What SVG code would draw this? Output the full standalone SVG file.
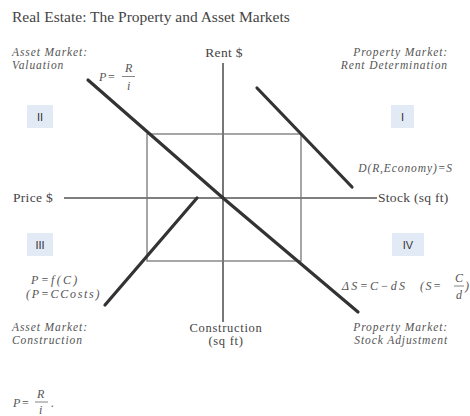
<svg xmlns="http://www.w3.org/2000/svg" width="470" height="416" viewBox="0 0 470 416">
<style>
.t{font-family:"Liberation Serif",serif;fill:#444;font-size:13.5px;letter-spacing:0.3px}
.t2{font-family:"Liberation Serif",serif;fill:#444;font-size:12.5px;letter-spacing:0.7px;text-anchor:middle}
.it{font-family:"Liberation Serif",serif;font-style:italic;fill:#555;font-size:11.5px;letter-spacing:0.9px}
.m{font-family:"Liberation Serif",serif;font-style:italic;fill:#555;font-size:12px}
.ax{stroke:#555;stroke-width:1.6;fill:none}
.grid{stroke:#777;stroke-width:1.3;fill:none}
.cur{stroke:#333;stroke-width:3.2;fill:none;stroke-linecap:round}
.box{fill:#e2eaf5}
.bt{font-family:"Liberation Sans",sans-serif;fill:#333;font-size:11px;text-anchor:middle}
.fb{stroke:#666;stroke-width:0.8}
</style>
<rect width="470" height="416" fill="#fff"/>
<text id="title" x="12" y="22" font-family="Liberation Serif,serif" font-size="15.5" fill="#444">Real Estate: The Property and Asset Markets</text>
<g id="connectors">
<line class="ax" x1="223" y1="63" x2="223" y2="322"/>
<line class="ax" x1="64" y1="198" x2="377" y2="198"/>
<rect class="grid" x="147" y="134" width="154" height="127"/>
<line class="cur" x1="88" y1="80" x2="223" y2="198"/>
<line class="cur" x1="223" y1="198" x2="358" y2="312"/>
<line class="cur" x1="257" y1="88" x2="352" y2="187"/>
<line class="cur" x1="197" y1="198" x2="105" y2="305"/>
</g>
<g id="asset-valuation"><text class="it" x="12" y="56">Asset Market:</text><text class="it" x="12" y="69">Valuation</text></g>
<g id="rent-axis"><text class="t" x="224" y="57" text-anchor="middle">Rent $</text></g>
<g id="property-rent"><text class="it" x="448" y="56" text-anchor="end">Property Market:</text><text class="it" x="448" y="69" text-anchor="end">Rent Determination</text></g>
<g id="eq-valuation"><text class="m" x="99" y="81" letter-spacing="1">P=</text><text class="m" x="125" y="72">R</text><line class="fb" x1="122" y1="76.5" x2="135" y2="76.5"/><text class="m" x="127" y="90">i</text></g>
<g id="q2"><rect class="box" x="27" y="105" width="26" height="23"/><text class="bt" x="40" y="120.5">II</text></g>
<g id="q1"><rect class="box" x="391" y="105" width="23" height="23"/><text class="bt" x="402.5" y="120.5">I</text></g>
<g id="eq-demand"><text class="it" x="453" y="172" text-anchor="end">D(R,Economy)=S</text></g>
<g id="price-axis"><text class="t" x="13" y="202">Price $</text></g>
<g id="stock-axis"><text class="t" x="378" y="202">Stock (sq ft)</text></g>
<g id="q3"><rect class="box" x="27" y="233" width="26" height="23"/><text class="bt" x="40" y="248.5">III</text></g>
<g id="q4"><rect class="box" x="392" y="233" width="32" height="23"/><text class="bt" x="408" y="248.5">IV</text></g>
<g id="eq-construction"><text class="m" x="31" y="284" letter-spacing="2.3">P=f(C)</text><text class="m" x="26" y="298" letter-spacing="1.7">(P=CCosts)</text></g>
<g id="eq-stock"><text class="m" x="342" y="290" letter-spacing="2.3">ΔS=C−dS</text><text class="m" x="420" y="290" letter-spacing="1.5">(S=</text><text class="m" x="455" y="282">C</text><line class="fb" x1="454" y1="286" x2="464" y2="286"/><text class="m" x="456" y="299">d</text><text class="m" x="465" y="290">)</text></g>
<g id="asset-construction"><text class="it" x="12" y="331">Asset Market:</text><text class="it" x="12" y="344">Construction</text></g>
<g id="construction-axis"><text class="t2" x="226" y="332">Construction</text><text class="t2" x="226" y="345">(sq ft)</text></g>
<g id="property-stock"><text class="it" x="448" y="331" text-anchor="end">Property Market:</text><text class="it" x="448" y="344" text-anchor="end">Stock Adjustment</text></g>
<g id="eq-bottom"><text class="m" x="13" y="407" letter-spacing="1">P=</text><text class="m" x="37" y="398">R</text><line class="fb" x1="35" y1="402" x2="48" y2="402"/><text class="m" x="39" y="414" font-size="10">i</text><text class="m" x="51" y="407">.</text></g>
</svg>
